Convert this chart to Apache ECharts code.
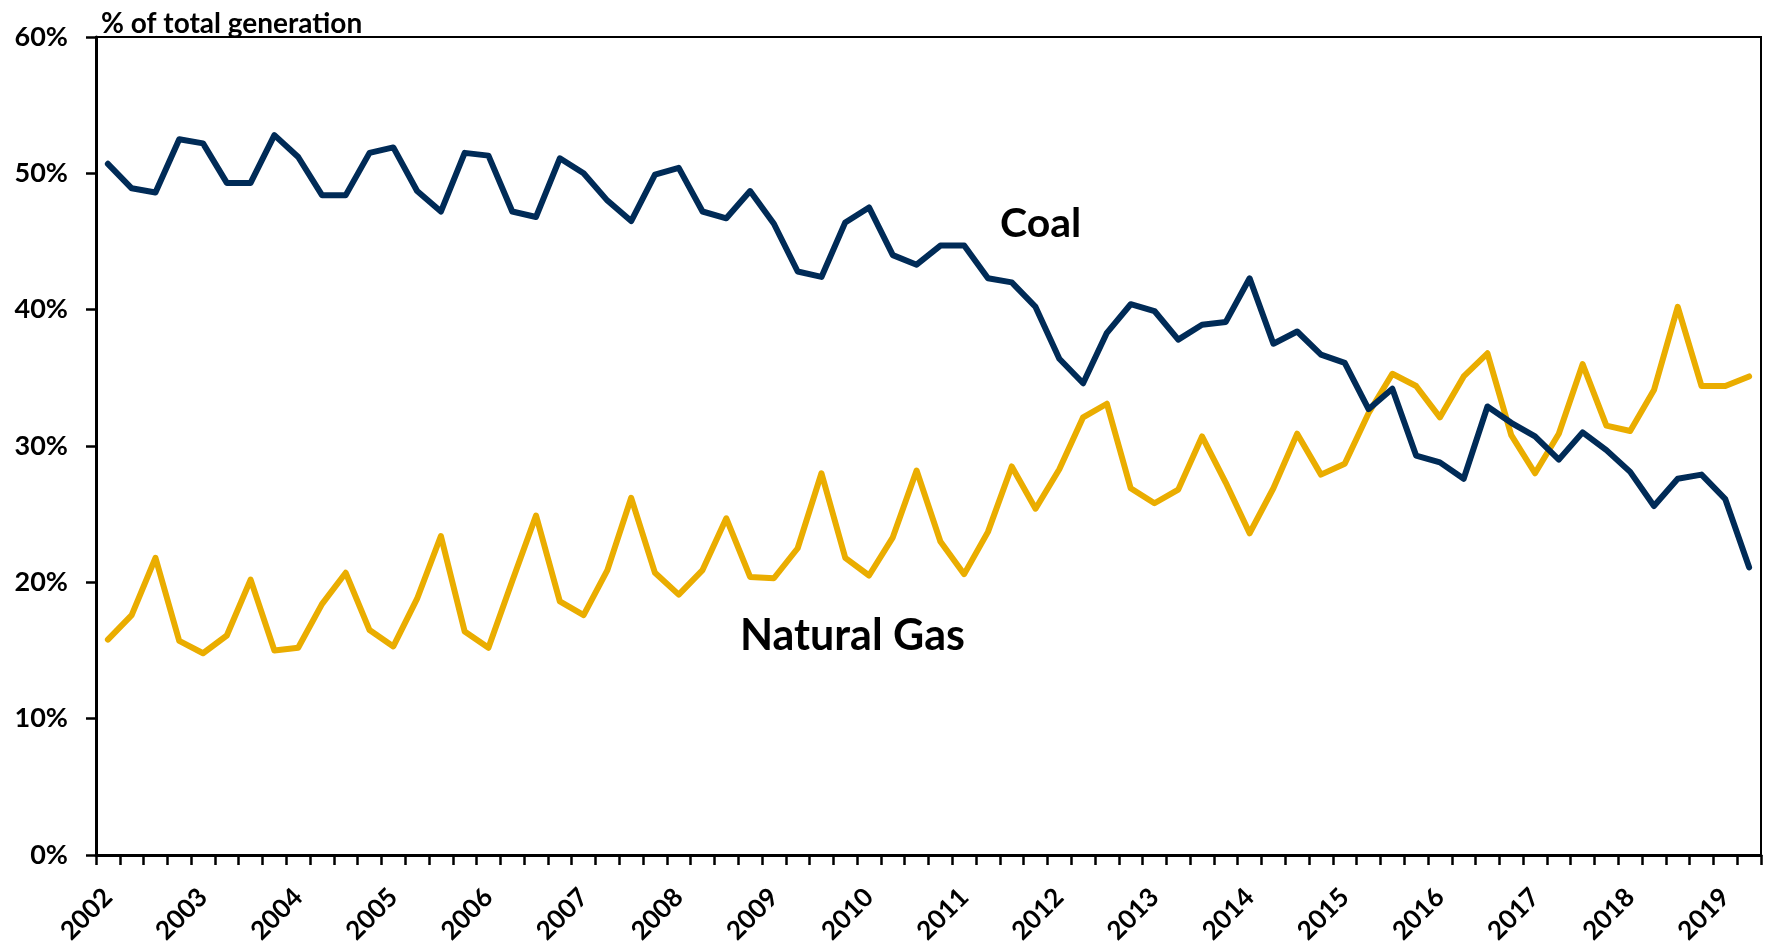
<!DOCTYPE html>
<html><head><meta charset="utf-8">
<script src="https://cdn.jsdelivr.net/npm/echarts@6/dist/echarts.min.js"></script>
<style>html,body{margin:0;padding:0;background:#fff}#c{width:1769px;height:947px}</style>
</head><body><div id="c"></div>
<script>
const years = [2002,2003,2004,2005,2006,2007,2008,2009,2010,2011,2012,2013,2014,2015,2016,2017,2018,2019];
const quarters = [];
years.forEach(y => { for (let q = 1; q <= 4; q++) quarters.push(y + ' Q' + q); });
const categories = quarters.slice(0, 70);

const coal = [50.7,48.9,48.6,52.5,52.2,49.3,49.3,52.8,51.2,48.4,48.4,51.5,
  51.9,48.7,47.2,51.5,51.3,47.2,46.8,51.1,50.0,48.0,46.5,49.9,
  50.4,47.2,46.7,48.7,46.3,42.8,42.4,46.4,47.5,44.0,43.3,44.7,
  44.7,42.3,42.0,40.2,36.4,34.6,38.3,40.4,39.9,37.8,38.9,39.1,
  42.3,37.5,38.4,36.7,36.1,32.7,34.2,29.3,28.8,27.6,32.9,31.7,
  30.7,29.0,31.0,29.7,28.1,25.6,27.6,27.9,26.1,21.1];
const gas = [15.8,17.6,21.8,15.7,14.8,16.1,20.2,15.0,15.2,18.4,20.7,16.5,
  15.3,18.8,23.4,16.4,15.2,20.1,24.9,18.6,17.6,20.9,26.2,20.7,
  19.1,20.9,24.7,20.4,20.3,22.5,28.0,21.8,20.5,23.3,28.2,23.0,
  20.6,23.7,28.5,25.4,28.3,32.1,33.1,26.9,25.8,26.8,30.7,27.3,
  23.6,26.9,30.9,27.9,28.7,32.4,35.3,34.4,32.1,35.1,36.8,30.8,
  28.0,30.9,36.0,31.5,31.1,34.1,40.2,34.4,34.4,35.1];

const FONT = 'Lato';
const chart = echarts.init(document.getElementById('c'), null, {renderer: 'canvas'});
chart.setOption({
  animation: false,
  backgroundColor: '#fff',
  textStyle: {fontFamily: FONT},
  grid: {left: 96, right: 8, top: 37, bottom: 92, show: true, borderColor: '#000', borderWidth: 2,
    containLabel: false, outerBoundsMode: 'none'},
  title: {text: '% of total generation', left: 96, top: 5,
    textStyle: {fontFamily: FONT, fontWeight: 'bold', fontSize: 28, color: '#000'}},
  xAxis: {
    type: 'category', data: categories, boundaryGap: true,
    axisLine: {lineStyle: {color: '#000', width: 3}},
    axisTick: {show: true, interval: 0, length: 10, lineStyle: {color: '#000', width: 2.5}},
    axisLabel: {interval: 3, rotate: 45, margin: 38, color: '#000', fontFamily: FONT, fontWeight: 'bold', fontSize: 26,
      formatter: v => v.slice(0, 4)},
    splitLine: {show: false}
  },
  yAxis: {
    type: 'value', min: 0, max: 60, interval: 10,
    axisLine: {show: true, lineStyle: {color: '#000', width: 3}},
    axisTick: {show: true, length: 10, lineStyle: {color: '#000', width: 2.5}},
    axisLabel: {formatter: '{value}%', color: '#000', fontFamily: FONT, fontWeight: 'bold', fontSize: 27, margin: 28},
    splitLine: {show: false}
  },
  series: [
    {name: 'Coal', type: 'line', data: coal, symbol: 'none', lineStyle: {color: '#002B57', width: 6, cap: 'round', join: 'round'}, z: 3},
    {name: 'Natural Gas', type: 'line', data: gas, symbol: 'none', lineStyle: {color: '#EAAD00', width: 6, cap: 'round', join: 'round'}, z: 2}
  ],
  graphic: [
    {type: 'text', left: 1000, top: 203, style: {text: 'Coal', fontFamily: FONT, fontWeight: 'bold', fontSize: 41, fill: '#000'}},
    {type: 'text', left: 740, top: 615, style: {text: 'Natural Gas', fontFamily: FONT, fontWeight: 'bold', fontSize: 43, fill: '#000'}}
  ]
});
</script></body></html>
